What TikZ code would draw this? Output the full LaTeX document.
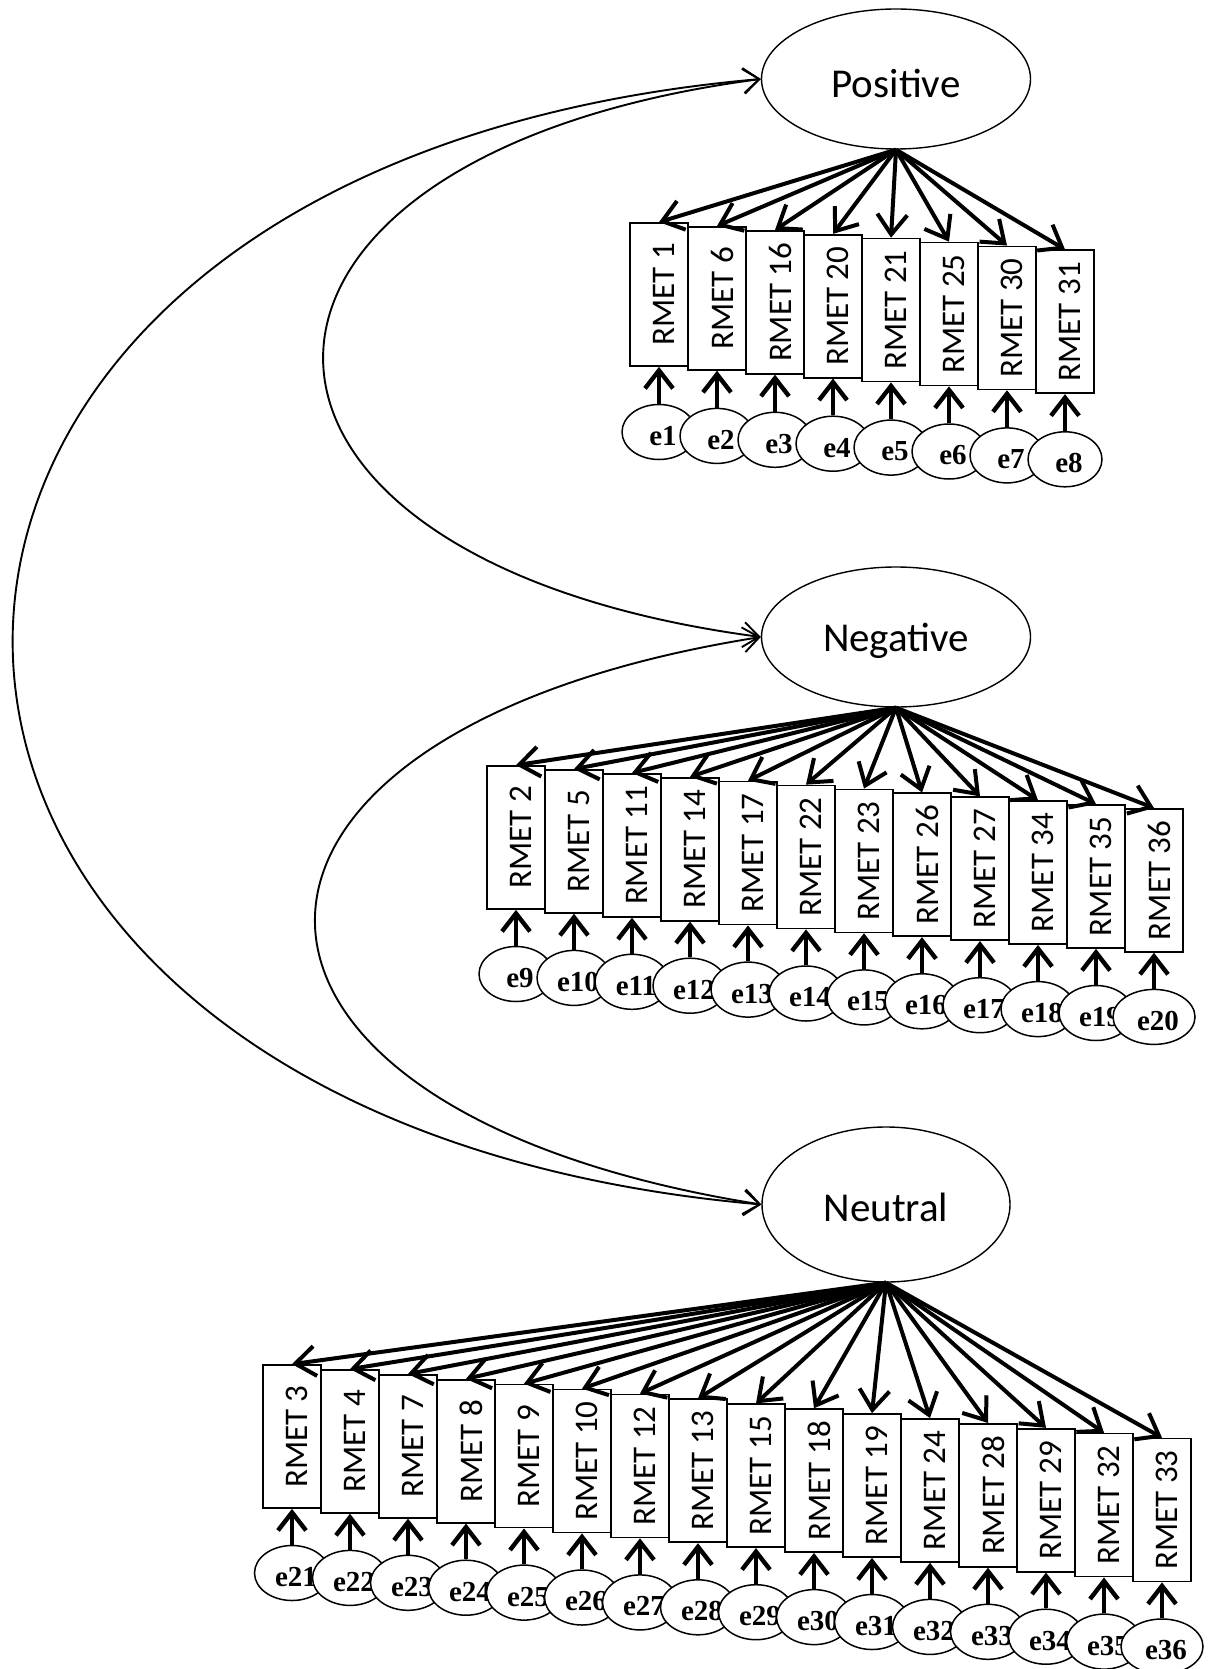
\documentclass[tikz,border=0pt]{standalone}
\usepackage{fontspec}
\setmainfont{Carlito}
\newfontfamily\efont{Liberation Serif}
\usetikzlibrary{shapes.geometric,arrows.meta}
\begin{document}
\begin{tikzpicture}[x=1pt,y=-1pt,
  lat/.style={draw, ellipse, line width=1.4pt, inner sep=0pt},
  lattxt/.style={inner sep=0pt, font=\fontsize{41}{45}\selectfont},
  obs/.style={draw, fill=white, line width=1.7pt, minimum width=58pt, minimum height=143pt, inner sep=0pt},
  obstxt/.style={rotate=90, inner sep=0pt, font=\fontsize{33}{36}\selectfont},
  err/.style={draw, ellipse, fill=white, line width=1.5pt, inner sep=0pt, minimum height=55pt},
  errtxt/.style={inner sep=0pt, font=\efont\bfseries\fontsize{29}{31}\selectfont},
  load/.style={line width=4pt, -{Straight Barb[length=20pt,width=30pt]}},
  erra/.style={line width=4.4pt, -{Straight Barb[length=18pt,width=28pt]}},
  cov/.style={line width=1.9pt, {Straight Barb[length=16pt,width=25pt]}-{Straight Barb[length=16pt,width=25pt]}}
]
\fill[white] (0,0) rectangle (1217,1669);
\useasboundingbox (0,0) rectangle (1217,1669);

\node[lat, minimum width=269pt, minimum height=140pt] (pos) at (896,79) {};
\node[lattxt] (post) at ([yshift=-4pt]pos.center) {Positive};
\node[lat, minimum width=269pt, minimum height=140pt] (neg) at (896,637) {};
\node[lattxt] (negt) at ([yshift=-4pt]neg.center) {Negative};
\node[lat, minimum width=248pt, minimum height=155pt] (neu) at (886,1204.5) {};
\node[lattxt] (neut) at ([yshift=-3pt]neu.center) {Neutral};

% Positive row
\foreach \lab [count=\i from 0] in {1,6,16,20,21,25,30,31}{
  \pgfmathtruncatemacro\k{\i+1}
  \pgfmathsetmacro\bx{659+58*\i}
  \pgfmathsetmacro\by{294.5+3.9*\i}
  \pgfmathsetmacro\ey{432+3.9*\i}
  \node[obs] (b\lab) at (\bx,\by) {};
  \node[obstxt] (bt\lab) at ([xshift=5pt]b\lab.center) {RMET \lab};
  \node[err, minimum width=74pt] (e\k) at (\bx,\ey) {};
  \node[errtxt] (et\k) at ([xshift=4pt,yshift=-4pt]e\k.center) {e\k};
  \draw[erra] (e\k) -- (b\lab);
}
% Negative row
\foreach \lab [count=\i from 0] in {2,5,11,14,17,22,23,26,27,34,35,36}{
  \pgfmathtruncatemacro\k{\i+9}
  \pgfmathsetmacro\bx{516+58*\i}
  \pgfmathsetmacro\by{837.5+3.9*\i}
  \pgfmathsetmacro\ey{974+3.9*\i}
  \pgfmathsetmacro\ew{(\k==20)?82:74}
  \node[obs] (b\lab) at (\bx,\by) {};
  \node[obstxt] (bt\lab) at ([xshift=5pt]b\lab.center) {RMET \lab};
  \node[err, minimum width=\ew pt] (e\k) at (\bx,\ey) {};
  \node[errtxt] (et\k) at ([xshift=4pt,yshift=-4pt]e\k.center) {e\k};
  \draw[erra] (e\k) -- (b\lab);
}
% Neutral row
\foreach \lab [count=\i from 0] in {3,4,7,8,9,10,12,13,15,18,19,24,28,29,32,33}{
  \pgfmathtruncatemacro\k{\i+21}
  \pgfmathsetmacro\bx{292+58*\i}
  \pgfmathsetmacro\by{1436.5+4.9*\i}
  \pgfmathsetmacro\ey{1573+4.9*\i}
  \pgfmathsetmacro\ew{(\k==36)?82:75}
  \node[obs] (b\lab) at (\bx,\by) {};
  \node[obstxt] (bt\lab) at ([xshift=5pt]b\lab.center) {RMET \lab};
  \node[err, minimum width=\ew pt] (e\k) at (\bx,\ey) {};
  \node[errtxt] (et\k) at ([xshift=4pt,yshift=-4pt]e\k.center) {e\k};
  \draw[erra] (e\k) -- (b\lab);
}

% loadings
\foreach \lab in {1,6,16,20,21,25,30,31} \draw[load] (pos.south) -- (b\lab.north);
\foreach \lab in {2,5,11,14,17,22,23,26,27,34,35,36} \draw[load] (neg.south) -- (b\lab.north);
\foreach \lab in {3,4,7,8,9,10,12,13,15,18,19,24,28,29,32,33} \draw[load] (neu.south) -- (b\lab.north);

% covariances
\draw[cov] (pos.west) .. controls (178,156) and (178,560) .. (neg.west);
\draw[cov] (pos.west) .. controls (-236,166) and (-236,1117) .. (neu.west);
\draw[cov] (neg.west) .. controls (167,731) and (167,1110) .. (neu.west);
\end{tikzpicture}
\end{document}
